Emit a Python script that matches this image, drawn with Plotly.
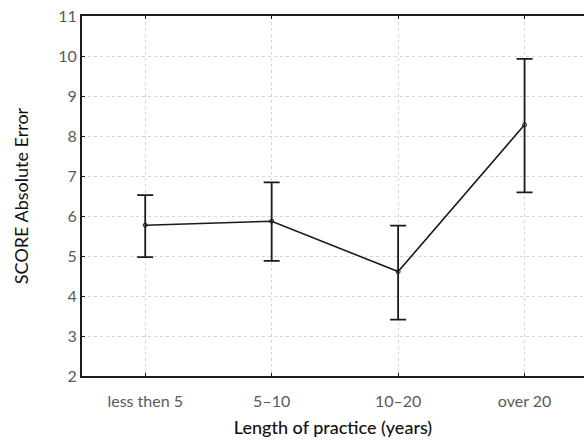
import plotly.graph_objects as go

categories = ["less then 5", "5–10", "10–20", "over 20"]
means = [5.77, 5.87, 4.61, 8.28]
upper = [6.52, 6.84, 5.76, 9.93]
lower = [4.97, 4.88, 3.41, 6.59]

err_plus = [u - m for u, m in zip(upper, means)]
err_minus = [m - l for m, l in zip(means, lower)]
xs = list(range(len(categories)))

fig = go.Figure()
fig.add_trace(go.Scatter(
    x=xs, y=means, mode="lines+markers",
    line=dict(color="#1a1a1a", width=1.6),
    marker=dict(symbol="circle-open", size=4, color="#1a1a1a", line=dict(width=1)),
    error_y=dict(type="data", symmetric=False, array=err_plus, arrayminus=err_minus,
                 color="#1a1a1a", thickness=1.8, width=8),
    showlegend=False,
))

font_fam = "Lato, Open Sans, sans-serif"
fig.update_layout(
    width=584, height=441,
    margin=dict(l=82, r=0, t=16, b=65),
    paper_bgcolor="white", plot_bgcolor="white",
    font=dict(family=font_fam, color="#5a5a5a", size=16),
    xaxis=dict(
        tickmode="array", tickvals=xs, ticktext=categories,
        range=[-0.5, 3.47],
        showgrid=True, gridcolor="#d6d6d6", griddash="dot", gridwidth=1,
        showline=True, linecolor="#1a1a1a", linewidth=2, mirror="ticks",
        ticks="inside", ticklen=3, tickcolor="#1a1a1a",
        ticklabelstandoff=10,
        tickfont=dict(size=16, color="#5a5a5a"),
        title=dict(text="Length of practice (years)", font=dict(size=18, color="#111111", weight=500), standoff=12),
        zeroline=False,
    ),
    yaxis=dict(
        range=[2, 11], dtick=1,
        showgrid=True, gridcolor="#d6d6d6", griddash="dot", gridwidth=1,
        showline=True, linecolor="#1a1a1a", linewidth=2, mirror=False,
        ticks="inside", ticklen=3, tickcolor="#1a1a1a",
        tickfont=dict(size=16, color="#5a5a5a"),
        title=dict(text="SCORE Absolute Error", font=dict(size=18, color="#111111"), standoff=25),
        zeroline=False,
    ),
)

fig.write_html("out.html")
